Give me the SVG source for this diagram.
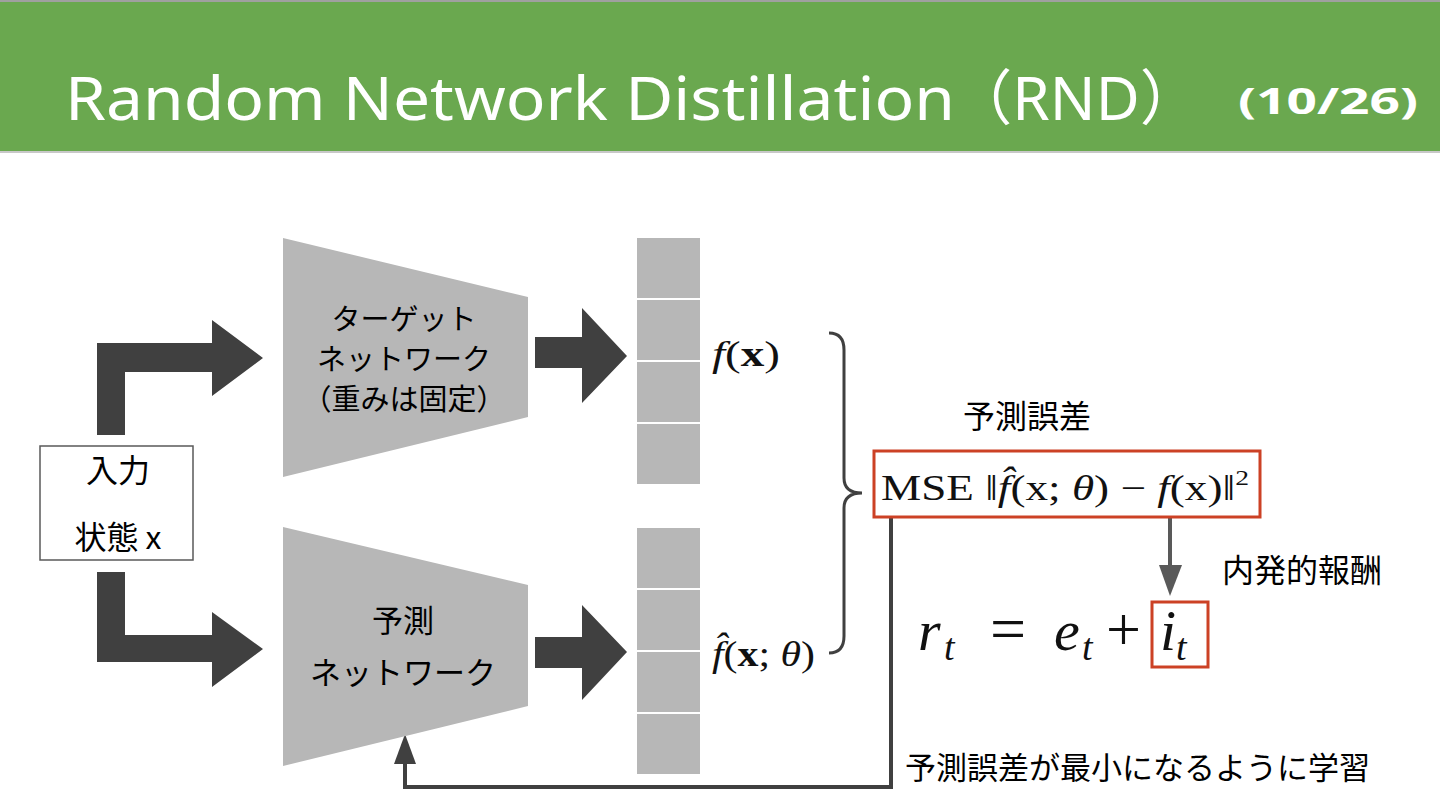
<svg xmlns="http://www.w3.org/2000/svg" width="1440" height="810" viewBox="0 0 1440 810">
<defs>
<style>
.jp{font-family:"Noto Sans CJK JP","Noto Sans",sans-serif;fill:#000;}
.math{font-family:"Liberation Serif","DejaVu Serif",serif;fill:#111;}
.it{font-style:italic;}
.net{fill:#b7b7b7;}
.cell{fill:#b7b7b7;stroke:#ffffff;stroke-width:2;}
.fat{fill:#404040;}
.red{fill:none;stroke:#cc4125;stroke-width:3;}
.line{fill:none;stroke:#404040;stroke-width:4;}
.ttl{font-family:"Noto Sans","Noto Sans CJK JP",sans-serif;fill:#ffffff;}
</style>
</defs>
<rect x="0" y="0" width="1440" height="810" fill="#ffffff"/>
<g id="header">
<rect x="0" y="0" width="1440" height="153" fill="#6aa84f"/>
<line x1="0" y1="1" x2="1440" y2="1" stroke="#a0a0a0" stroke-width="2"/>
<line x1="0" y1="152" x2="1440" y2="152" stroke="#c8c8c8" stroke-width="2"/>
<text class="ttl" x="65" y="120" font-size="60" textLength="890" lengthAdjust="spacingAndGlyphs">Random Network Distillation</text>
<text class="ttl" x="952" y="120" font-size="60" textLength="248" lengthAdjust="spacingAndGlyphs">（RND）</text>
<text class="ttl" x="1238" y="114" font-size="36" font-weight="bold" textLength="180" lengthAdjust="spacingAndGlyphs">(10/26)</text>
</g>
<g id="connectors">
<polygon class="fat" points="97,435 97,343 212,343 212,320 263,358 212,396 212,372 125,372 125,435"/>
<polygon class="fat" points="97,572 125,572 125,635 212,635 212,612 263,649 212,687 212,662 97,662"/>
<polygon class="fat" points="535,337 582,337 582,308 627,356 582,403 582,368 535,368"/>
<polygon class="fat" points="535,637 582,637 582,605 627,652 582,700 582,668 535,668"/>
<path d="M 829,333 Q 844,333 844,350 L 844,478 Q 844,493 862,493 Q 844,493 844,508 L 844,636 Q 844,653 829,653" fill="none" stroke="#404040" stroke-width="3"/>
<polyline class="line" points="891,517 891,787 405,787 405,762"/>
<polygon fill="#404040" points="394,764 416,764 405,734"/>
<line x1="1170" y1="517" x2="1170" y2="567" stroke="#595959" stroke-width="4"/>
<polygon fill="#595959" points="1159,565 1182,565 1170,596"/>
</g>
<g id="input">
<rect x="40" y="446" width="153" height="114" fill="#ffffff" stroke="#595959" stroke-width="1.5"/>
<text class="jp" x="118" y="482" font-size="32" text-anchor="middle">入力</text>
<text class="jp" x="118" y="549" font-size="32" text-anchor="middle">状態 x</text>
</g>
<g id="target-net">
<polygon class="net" points="283,238 528,297 528,417 283,477"/>
<text class="jp" x="404" y="330" font-size="29" text-anchor="middle">ターゲット</text>
<text class="jp" x="404" y="370" font-size="29" text-anchor="middle">ネットワーク</text>
<text class="jp" x="404" y="410" font-size="29" text-anchor="middle">（重みは固定）</text>
</g>
<g id="predict-net">
<polygon class="net" points="283,527 528,585 528,706 283,766"/>
<text class="jp" x="403" y="632" font-size="31" text-anchor="middle">予測</text>
<text class="jp" x="403" y="684" font-size="31" text-anchor="middle">ネットワーク</text>
</g>
<g id="target-vec">
<rect class="cell" x="636" y="237" width="65" height="62"/>
<rect class="cell" x="636" y="299" width="65" height="62"/>
<rect class="cell" x="636" y="361" width="65" height="62"/>
<rect class="cell" x="636" y="423" width="65" height="62"/>
<text class="math" x="712" y="366" font-size="36" textLength="68" lengthAdjust="spacingAndGlyphs"><tspan class="it">f</tspan>(<tspan font-weight="bold">x</tspan>)</text>
</g>
<g id="predict-vec">
<rect class="cell" x="636" y="527" width="65" height="62"/>
<rect class="cell" x="636" y="589" width="65" height="62"/>
<rect class="cell" x="636" y="651" width="65" height="62"/>
<rect class="cell" x="636" y="713" width="65" height="62"/>
<text class="math" x="712" y="666" font-size="36" textLength="103" lengthAdjust="spacingAndGlyphs"><tspan class="it">f̂</tspan>(<tspan font-weight="bold">x</tspan>; <tspan class="it">θ</tspan>)</text>
</g>
<g id="mse">
<text class="jp" x="1027" y="428" font-size="32" text-anchor="middle">予測誤差</text>
<rect class="red" x="874" y="451" width="386" height="66"/>
<text class="math" x="881" y="500" font-size="36" textLength="368" lengthAdjust="spacingAndGlyphs">MSE ‖<tspan class="it">f̂</tspan>(x; <tspan class="it">θ</tspan>) − <tspan class="it">f</tspan>(x)‖<tspan font-size="22" dy="-15">2</tspan></text>
</g>
<g id="reward">
<text class="jp" x="1222" y="582" font-size="32">内発的報酬</text>
<text class="math" y="650" font-size="58"><tspan class="it" x="918">r</tspan><tspan class="it" font-size="38" x="944" dy="10">t</tspan><tspan x="990" dy="-10" font-size="64">=</tspan><tspan class="it" x="1054">e</tspan><tspan class="it" font-size="38" x="1082" dy="10">t</tspan><tspan x="1106" dy="-10" font-size="62">+</tspan><tspan class="it" x="1160">i</tspan><tspan class="it" font-size="38" x="1176" dy="10">t</tspan></text>
<rect class="red" x="1152" y="602" width="56" height="65"/>
</g>
<g id="train-label">
<text class="jp" x="905" y="779" font-size="31">予測誤差が最小になるように学習</text>
</g>
</svg>
